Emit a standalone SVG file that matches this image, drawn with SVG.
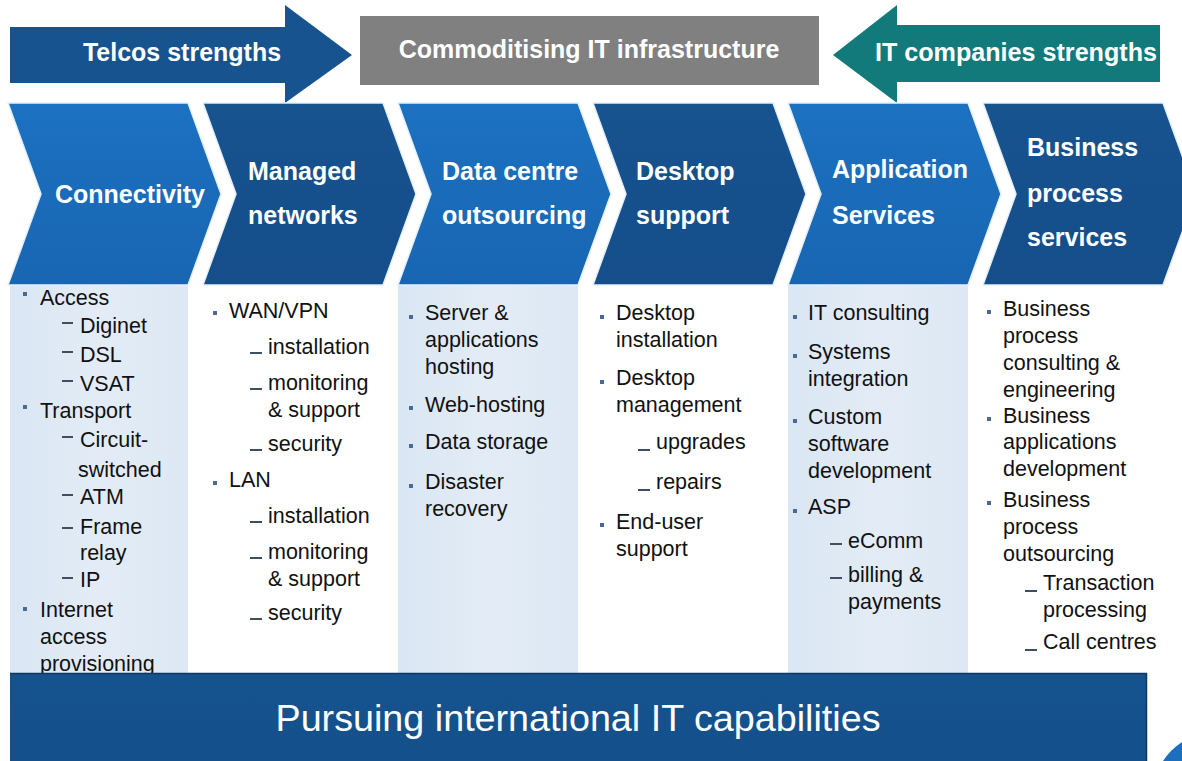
<svg xmlns="http://www.w3.org/2000/svg" width="1182" height="761" viewBox="0 0 1182 761">
  <defs>
    <linearGradient id="gLight" x1="0" y1="0" x2="0" y2="1">
      <stop offset="0" stop-color="#1c71c1"/>
      <stop offset="1" stop-color="#1866b2"/>
    </linearGradient>
    <linearGradient id="gDark" x1="0" y1="0" x2="0" y2="1">
      <stop offset="0" stop-color="#17538f"/>
      <stop offset="1" stop-color="#154e8a"/>
    </linearGradient>
    <linearGradient id="gPanel" x1="0" y1="0" x2="1" y2="0">
      <stop offset="0" stop-color="#d9e6f3"/>
      <stop offset="0.5" stop-color="#e3ecf6"/>
      <stop offset="1" stop-color="#dde8f4"/>
    </linearGradient>
    <linearGradient id="gBanner" x1="0" y1="0" x2="0" y2="1">
      <stop offset="0" stop-color="#15538f"/>
      <stop offset="1" stop-color="#14508b"/>
    </linearGradient>
  </defs>
  <style>
    .hdr { font-family: "Liberation Sans", Arial, sans-serif; font-weight: bold; font-size: 25px; fill: #ffffff; }
    .body { font-family: "Liberation Sans", Arial, sans-serif; font-size: 21.5px; fill: #111111; }
    .bul { fill: #4b6a92; }
    .dash { fill: #3d4f66; }
    .panel { fill: url(#gPanel); }
    .light { fill: url(#gLight); stroke: #e6eff8; stroke-width: 1.5; }
    .dark { fill: url(#gDark); stroke: #e6eff8; stroke-width: 1.5; }
  </style>

  <rect width="1182" height="761" fill="#ffffff"/>

  <!-- top strip: two strength arrows and the grey middle band -->
  <g id="telcos-strengths">
    <path d="M10,27 H285 V5 L352,55 L285,103 V83 H10 Z" fill="#17538f"/>
    <text class="hdr" x="182" y="61" text-anchor="middle">Telcos strengths</text>
  </g>
  <g id="commoditising">
    <rect x="360" y="16" width="459" height="69" fill="#808080"/>
    <text class="hdr" x="589" y="58" text-anchor="middle">Commoditising IT infrastructure</text>
  </g>
  <g id="it-strengths">
    <path d="M1160,25 H897 V5 L833,55 L897,103 V82 H1160 Z" fill="#127a7b"/>
    <text class="hdr" x="1016" y="61" text-anchor="middle" textLength="282" lengthAdjust="spacingAndGlyphs">IT companies strengths</text>
  </g>

  <!-- light column panels -->
  <rect class="panel" x="10" y="285" width="178" height="390"/>
  <rect class="panel" x="398" y="285" width="180" height="390"/>
  <rect class="panel" x="788" y="285" width="180" height="390"/>

  <!-- column 1 -->
  <g id="connectivity">
    <path class="light" d="M8,103 H188 L221,194 L188,285 H8 L41,194 Z"/>
    <text class="hdr" x="130" y="203" text-anchor="middle">Connectivity</text>
    <g class="body">
      <rect class="bul" x="23" y="292" width="4" height="4"/><text x="40" y="305">Access</text>
      <rect class="dash" x="62" y="322" width="11" height="2"/><text x="80" y="333">Diginet</text>
      <rect class="dash" x="62" y="351" width="11" height="2"/><text x="80" y="362">DSL</text>
      <rect class="dash" x="62" y="380" width="11" height="2"/><text x="80" y="391">VSAT</text>
      <rect class="bul" x="23" y="405" width="4" height="4"/><text x="40" y="418">Transport</text>
      <rect class="dash" x="62" y="436" width="11" height="2"/><text x="80" y="447">Circuit-</text>
      <text x="78" y="477">switched</text>
      <rect class="dash" x="62" y="494" width="11" height="2"/><text x="80" y="504">ATM</text>
      <rect class="dash" x="62" y="527" width="11" height="2"/><text x="80" y="534">Frame</text>
      <text x="80" y="560">relay</text>
      <rect class="dash" x="62" y="577" width="11" height="2"/><text x="80" y="587">IP</text>
      <rect class="bul" x="23" y="607" width="4" height="4"/><text x="40" y="617">Internet</text>
      <text x="40" y="644">access</text>
      <text x="40" y="671">provisioning</text>
    </g>
  </g>

  <!-- column 2 -->
  <g id="managed-networks">
    <path class="dark" d="M203,103 H383 L416,194 L383,285 H203 L236,194 Z"/>
    <text class="hdr" x="248" y="180">Managed</text>
    <text class="hdr" x="248" y="224">networks</text>
    <g class="body">
      <rect class="bul" x="213" y="311" width="4" height="4"/><text x="229" y="318">WAN/VPN</text>
      <rect class="dash" x="250" y="352" width="12" height="2"/><text x="268" y="354">installation</text>
      <rect class="dash" x="250" y="388" width="12" height="2"/><text x="268" y="390">monitoring</text>
      <text x="268" y="417">&amp; support</text>
      <rect class="dash" x="250" y="449" width="12" height="2"/><text x="268" y="451">security</text>
      <rect class="bul" x="213" y="481" width="4" height="4"/><text x="229" y="487">LAN</text>
      <rect class="dash" x="250" y="521" width="12" height="2"/><text x="268" y="523">installation</text>
      <rect class="dash" x="250" y="557" width="12" height="2"/><text x="268" y="559">monitoring</text>
      <text x="268" y="586">&amp; support</text>
      <rect class="dash" x="250" y="618" width="12" height="2"/><text x="268" y="620">security</text>
    </g>
  </g>

  <!-- column 3 -->
  <g id="data-centre">
    <path class="light" d="M398,103 H578 L611,194 L578,285 H398 L431,194 Z"/>
    <text class="hdr" x="442" y="180">Data centre</text>
    <text class="hdr" x="442" y="224">outsourcing</text>
    <g class="body">
      <rect class="bul" x="409" y="315" width="4" height="4"/><text x="425" y="320">Server &amp;</text>
      <text x="425" y="347">applications</text>
      <text x="425" y="374">hosting</text>
      <rect class="bul" x="409" y="406" width="4" height="4"/><text x="425" y="412">Web-hosting</text>
      <rect class="bul" x="409" y="444" width="4" height="4"/><text x="425" y="449">Data storage</text>
      <rect class="bul" x="409" y="484" width="4" height="4"/><text x="425" y="489">Disaster</text>
      <text x="425" y="516">recovery</text>
    </g>
  </g>

  <!-- column 4 -->
  <g id="desktop-support">
    <path class="dark" d="M593,103 H773 L806,194 L773,285 H593 L626,194 Z"/>
    <text class="hdr" x="636" y="180">Desktop</text>
    <text class="hdr" x="636" y="224">support</text>
    <g class="body">
      <rect class="bul" x="600" y="315" width="4" height="4"/><text x="616" y="320">Desktop</text>
      <text x="616" y="347">installation</text>
      <rect class="bul" x="600" y="380" width="4" height="4"/><text x="616" y="385">Desktop</text>
      <text x="616" y="412">management</text>
      <rect class="dash" x="638" y="449" width="12" height="2"/><text x="656" y="449">upgrades</text>
      <rect class="dash" x="638" y="489" width="12" height="2"/><text x="656" y="489">repairs</text>
      <rect class="bul" x="600" y="523" width="4" height="4"/><text x="616" y="529">End-user</text>
      <text x="616" y="556">support</text>
    </g>
  </g>

  <!-- column 5 -->
  <g id="application-services">
    <path class="light" d="M788,103 H968 L1001,194 L968,285 H788 L821,194 Z"/>
    <text class="hdr" x="832" y="178">Application</text>
    <text class="hdr" x="832" y="224">Services</text>
    <g class="body">
      <rect class="bul" x="793" y="315" width="4" height="4"/><text x="808" y="320">IT consulting</text>
      <rect class="bul" x="793" y="354" width="4" height="4"/><text x="808" y="359">Systems</text>
      <text x="808" y="386">integration</text>
      <rect class="bul" x="793" y="419" width="4" height="4"/><text x="808" y="424">Custom</text>
      <text x="808" y="451">software</text>
      <text x="808" y="478">development</text>
      <rect class="bul" x="793" y="509" width="4" height="4"/><text x="808" y="514">ASP</text>
      <rect class="dash" x="830" y="543" width="12" height="2"/><text x="848" y="548">eComm</text>
      <rect class="dash" x="830" y="577" width="12" height="2"/><text x="848" y="582">billing &amp;</text>
      <text x="848" y="609">payments</text>
    </g>
  </g>

  <!-- column 6 -->
  <g id="business-process">
    <path class="dark" d="M983,103 H1163 L1196,194 L1163,285 H983 L1016,194 Z"/>
    <text class="hdr" x="1027" y="156">Business</text>
    <text class="hdr" x="1027" y="202">process</text>
    <text class="hdr" x="1027" y="246">services</text>
    <g class="body">
      <rect class="bul" x="987" y="310" width="4" height="4"/><text x="1003" y="316">Business</text>
      <text x="1003" y="343">process</text>
      <text x="1003" y="370">consulting &amp;</text>
      <text x="1003" y="397">engineering</text>
      <rect class="bul" x="987" y="417" width="4" height="4"/><text x="1003" y="423">Business</text>
      <text x="1003" y="449">applications</text>
      <text x="1003" y="476">development</text>
      <rect class="bul" x="987" y="501" width="4" height="4"/><text x="1003" y="507">Business</text>
      <text x="1003" y="534">process</text>
      <text x="1003" y="561">outsourcing</text>
      <rect class="dash" x="1025" y="590" width="12" height="2"/><text x="1043" y="590">Transaction</text>
      <text x="1043" y="617">processing</text>
      <rect class="dash" x="1025" y="649" width="12" height="2"/><text x="1043" y="649">Call centres</text>
    </g>
  </g>

  <!-- bottom banner -->
  <g id="banner">
    <rect x="10" y="673" width="1137" height="92" fill="url(#gBanner)"/>
    <line x1="10" y1="673.5" x2="1147" y2="673.5" stroke="#0e3763" stroke-width="1.5"/>
    <line x1="1146.5" y1="673" x2="1146.5" y2="761" stroke="#0e3763" stroke-width="1.5"/>
    <text x="578" y="731" text-anchor="middle" font-family="'Liberation Sans', Arial, sans-serif" font-size="37" fill="#ffffff" textLength="605" lengthAdjust="spacingAndGlyphs">Pursuing international IT capabilities</text>
  </g>

  <!-- corner swoosh -->
  <path d="M1163,761 Q1170,750 1182,742 V761 Z" fill="#1a6fbf"/>
</svg>
